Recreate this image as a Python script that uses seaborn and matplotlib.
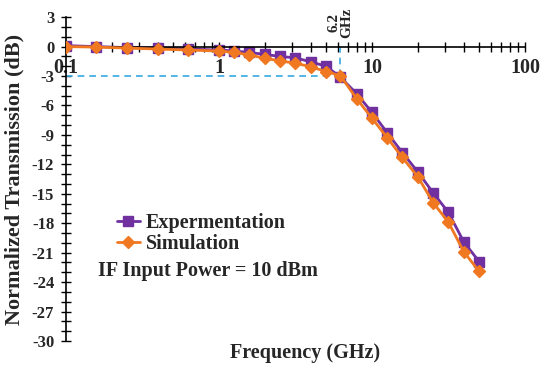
import numpy as np
import pandas as pd
import seaborn as sns
import matplotlib.pyplot as plt
from matplotlib.ticker import MultipleLocator, LogLocator, FixedLocator

freq_ghz = [0.1, 0.158, 0.251, 0.398, 0.631, 1.0, 1.26, 1.58, 2.0, 2.51, 3.16, 3.98,
            5.01, 6.2, 7.94, 10.0, 12.6, 15.8, 20.0, 25.1, 31.6, 39.8, 50.1]
exp_db = [0.1, 0.0, -0.1, -0.15, -0.25, -0.35, -0.45, -0.6, -0.8, -1.0, -1.15, -1.55,
          -2.0, -3.1, -4.8, -6.7, -8.8, -10.8, -12.8, -14.9, -16.9, -19.9, -21.9]
sim_db = [0.0, -0.05, -0.15, -0.25, -0.35, -0.45, -0.6, -0.85, -1.2, -1.45, -1.7, -2.05,
          -2.55, -2.95, -5.3, -7.3, -9.3, -11.3, -13.3, -15.9, -17.9, -20.9, -22.9]
series_names = ["Expermentation", "Simulation"]

cutoff_ghz = 6.2
cutoff_db = -3
x_ticks = [0.1, 1, 10, 100]
x_tick_labels = ["0.1", "1", "10", "100"]
y_ticks = list(range(-30, 4, 3))

df = pd.DataFrame({
    "Frequency": freq_ghz * 2,
    "dB": exp_db + sim_db,
    "Series": [series_names[0]] * len(freq_ghz) + [series_names[1]] * len(freq_ghz),
})

sns.set_style("white")
plt.rcParams["font.family"] = ["Liberation Serif", "DejaVu Serif"]
plt.rcParams["font.weight"] = "bold"

fig, ax = plt.subplots(figsize=(5.5, 3.73), dpi=100)
fig.subplots_adjust(left=0.12, right=0.9545, top=0.954, bottom=0.0858)

colors = {"Expermentation": "#7030A0", "Simulation": "#F07820"}
markers = {"Expermentation": "s", "Simulation": "D"}
msize = {"Expermentation": 7.5, "Simulation": 6}
for name in series_names:
    sub = df[df["Series"] == name]
    sns.lineplot(data=sub, x="Frequency", y="dB", ax=ax, color=colors[name],
                 marker=markers[name], markersize=msize[name], linewidth=2,
                 markeredgecolor=colors[name], markeredgewidth=1, label=name,
                 zorder=3 if name == "Simulation" else 2)

# -3 dB cutoff guide lines
ax.hlines(cutoff_db, x_ticks[0], cutoff_ghz, colors="#35A8E0", linestyles=(0, (4, 3)),
          linewidth=1.2, zorder=1)
ax.vlines(cutoff_ghz, cutoff_db, 0, colors="#35A8E0", linestyles=(0, (4, 3)),
          linewidth=1.2, zorder=1)
ax.text(cutoff_ghz, 0.9, "6.2\nGHz", rotation=90, ha="center", va="bottom",
        multialignment="center", fontsize=11, fontweight="bold", linespacing=0.95)

ax.set_xscale("log")
ax.set_xlim(x_ticks[0], x_ticks[-1])
ax.set_ylim(y_ticks[0], y_ticks[-1])
ax.xaxis.set_major_locator(FixedLocator(x_ticks))
ax.set_xticklabels(x_tick_labels)
ax.xaxis.set_minor_locator(LogLocator(base=10, subs=np.arange(2, 10)))
ax.xaxis.set_minor_formatter(plt.NullFormatter())
ax.set_yticks(y_ticks)
ax.set_yticklabels([str(v) for v in y_ticks])
ax.yaxis.set_minor_locator(MultipleLocator(1))

ax.spines["bottom"].set_position(("data", 0))
ax.spines["top"].set_visible(False)
ax.spines["right"].set_visible(False)
for sp in ["bottom", "left"]:
    ax.spines[sp].set_color("black")
    ax.spines[sp].set_linewidth(1.2)

ax.tick_params(axis="both", which="both", direction="inout", length=7, width=1,
               color="black", bottom=True, left=True)
ax.tick_params(axis="x", which="major", labelsize=14.5, pad=5)
ax.tick_params(axis="y", which="major", labelsize=12, pad=5)
for lab in ax.get_xticklabels() + ax.get_yticklabels():
    lab.set_fontweight("bold")

ax.set_xlabel("Frequency (GHz)", fontsize=14.5, fontweight="bold")
ax.xaxis.set_label_coords(0.52, -0.005)
ax.set_ylabel("Normalized Transmission (dB)", fontsize=16, fontweight="bold")
ax.yaxis.set_label_coords(-0.09, 0.5)

leg = ax.legend(loc="upper left", bbox_to_anchor=(0.09, 0.425), frameon=False,
                handlelength=1.1, handletextpad=0.3, labelspacing=0.02,
                borderpad=0, prop={"size": 14.5, "weight": "bold"})
ax.text(0.07, 0.217, "IF Input Power = 10 dBm", transform=ax.transAxes,
        fontsize=14.5, fontweight="bold", va="center", ha="left")

fig.savefig("out.png", dpi=100)
